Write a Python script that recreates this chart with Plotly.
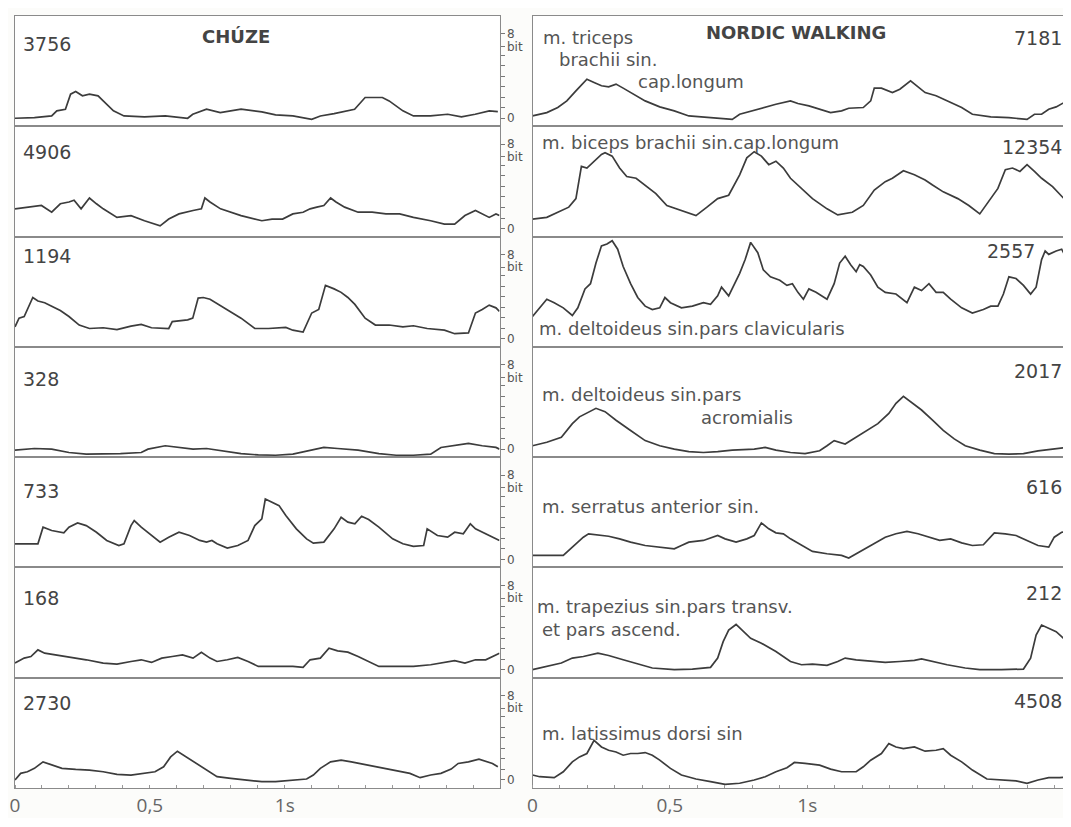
import plotly.graph_objects as go
from plotly.subplots import make_subplots

# ---------------- DATA ----------------
# x tick labels (time in s)
x_tickvals = [0, 0.5, 1]
x_ticktext = ["0", "0,5", "1s"]
# y ticks (bits)
y_tickvals = [0, 1, 2, 3, 4, 5, 6, 6.8, 8]
y_ticktext = ["0", "", "", "", "", "", "", "bit", "8"]

# CHÚZE (walking) – left column
ch_peaks = ["3756", "4906", "1194", "328", "733", "168", "2730"]

CH1_T = [0.0, 0.072, 0.136, 0.155, 0.187, 0.206, 0.225, 0.25, 0.276, 0.308, 0.327, 0.365, 0.404, 0.48, 0.557, 0.64, 0.659, 0.71, 0.761, 0.838, 0.915, 0.966, 1.03, 1.1, 1.132, 1.183, 1.259, 1.298, 1.323, 1.362, 1.387, 1.438, 1.477, 1.54, 1.604, 1.655, 1.706, 1.758, 1.79]
CH1_V = [0.0, 0.06, 0.22, 0.7, 0.86, 2.29, 2.54, 2.13, 2.29, 2.13, 1.65, 0.7, 0.22, 0.13, 0.22, 0.0, 0.38, 0.86, 0.54, 0.86, 0.6, 0.32, 0.22, -0.1, 0.22, 0.44, 0.86, 1.97, 1.97, 1.97, 1.65, 0.7, 0.22, 0.22, 0.38, 0.13, 0.38, 0.7, 0.63]

CH2_T = [0.0, 0.046, 0.098, 0.136, 0.168, 0.2, 0.219, 0.245, 0.276, 0.302, 0.327, 0.378, 0.43, 0.48, 0.538, 0.57, 0.608, 0.66, 0.691, 0.704, 0.723, 0.762, 0.838, 0.915, 0.953, 0.992, 1.03, 1.068, 1.094, 1.119, 1.145, 1.17, 1.19, 1.222, 1.272, 1.324, 1.375, 1.426, 1.477, 1.541, 1.592, 1.63, 1.668, 1.707, 1.732, 1.758, 1.783, 1.796]
CH2_V = [1.87, 2.03, 2.19, 1.55, 2.35, 2.52, 2.68, 1.87, 2.9, 2.35, 1.87, 1.06, 1.23, 0.74, 0.26, 0.9, 1.39, 1.71, 1.87, 2.9, 2.52, 1.87, 1.23, 0.74, 0.9, 0.9, 1.39, 1.55, 1.87, 2.03, 2.19, 2.9, 2.52, 2.03, 1.55, 1.55, 1.39, 1.39, 1.06, 0.74, 0.42, 0.42, 1.23, 1.71, 1.39, 1.06, 1.39, 1.23]

CH3_T = [0.0, 0.015, 0.034, 0.066, 0.085, 0.11, 0.136, 0.168, 0.2, 0.238, 0.276, 0.327, 0.378, 0.43, 0.468, 0.506, 0.57, 0.583, 0.64, 0.659, 0.679, 0.698, 0.723, 0.775, 0.838, 0.889, 0.94, 1.004, 1.03, 1.068, 1.1, 1.126, 1.151, 1.183, 1.209, 1.234, 1.26, 1.298, 1.336, 1.387, 1.438, 1.477, 1.528, 1.592, 1.63, 1.681, 1.707, 1.732, 1.758, 1.783, 1.796]
CH3_V = [1.14, 1.96, 2.12, 3.92, 3.59, 3.43, 3.1, 2.68, 2.12, 1.31, 0.98, 1.05, 0.88, 1.21, 1.37, 1.05, 0.98, 1.63, 1.8, 1.96, 3.86, 3.92, 3.76, 2.94, 1.96, 0.98, 0.98, 1.08, 0.82, 0.65, 2.45, 2.78, 5.07, 4.74, 4.41, 3.92, 3.27, 1.96, 1.31, 1.31, 1.14, 1.24, 0.98, 0.82, 0.49, 0.56, 2.45, 2.78, 3.2, 2.94, 2.61]

CH4_T = [0.0, 0.072, 0.136, 0.2, 0.264, 0.327, 0.391, 0.468, 0.493, 0.557, 0.608, 0.66, 0.71, 0.774, 0.838, 0.902, 0.966, 1.03, 1.094, 1.145, 1.196, 1.272, 1.349, 1.413, 1.477, 1.541, 1.579, 1.63, 1.681, 1.732, 1.783, 1.796]
CH4_V = [-0.1, 0.06, 0.0, -0.32, -0.48, -0.48, -0.42, -0.32, 0.0, 0.32, 0.16, 0.0, 0.06, -0.16, -0.42, -0.55, -0.58, -0.48, -0.1, 0.16, 0.06, -0.1, -0.42, -0.58, -0.58, -0.48, 0.16, 0.32, 0.55, 0.32, 0.16, 0.0]

CH5_T = [0.0, 0.046, 0.085, 0.104, 0.136, 0.181, 0.2, 0.232, 0.264, 0.302, 0.34, 0.385, 0.404, 0.43, 0.442, 0.468, 0.506, 0.538, 0.57, 0.608, 0.647, 0.685, 0.71, 0.73, 0.749, 0.787, 0.826, 0.864, 0.889, 0.915, 0.928, 0.953, 0.979, 1.004, 1.043, 1.081, 1.106, 1.145, 1.183, 1.209, 1.234, 1.26, 1.285, 1.311, 1.349, 1.4, 1.438, 1.477, 1.515, 1.528, 1.566, 1.604, 1.63, 1.662, 1.688, 1.707, 1.745, 1.783, 1.796]
CH5_V = [1.48, 1.48, 1.48, 3.06, 2.74, 2.52, 3.06, 3.46, 3.21, 2.58, 1.8, 1.32, 1.48, 3.21, 3.69, 3.06, 2.27, 1.64, 2.11, 2.58, 2.27, 1.8, 1.64, 1.8, 1.48, 1.07, 1.32, 1.8, 3.21, 3.84, 5.73, 5.42, 5.1, 4.16, 2.9, 1.95, 1.54, 1.64, 2.9, 4.0, 3.53, 3.37, 4.09, 3.78, 3.06, 1.95, 1.48, 1.23, 1.32, 2.9, 2.27, 2.11, 2.58, 2.43, 3.37, 2.9, 2.43, 1.95, 1.8]

CH6_T = [0.0, 0.034, 0.059, 0.085, 0.11, 0.148, 0.2, 0.264, 0.327, 0.378, 0.43, 0.468, 0.506, 0.544, 0.583, 0.621, 0.66, 0.691, 0.723, 0.749, 0.787, 0.826, 0.864, 0.902, 0.966, 1.03, 1.068, 1.094, 1.132, 1.164, 1.196, 1.234, 1.272, 1.311, 1.349, 1.413, 1.477, 1.541, 1.592, 1.63, 1.668, 1.707, 1.745, 1.783, 1.796]
CH6_V = [0.63, 1.1, 1.25, 1.88, 1.57, 1.41, 1.25, 0.94, 0.63, 0.53, 0.78, 0.94, 0.69, 1.1, 1.25, 1.41, 1.1, 1.66, 1.1, 0.78, 0.94, 1.16, 0.78, 0.31, 0.31, 0.31, 0.22, 0.94, 1.1, 2.04, 1.79, 1.66, 1.25, 0.78, 0.31, 0.31, 0.31, 0.47, 0.72, 0.85, 0.63, 0.94, 0.94, 1.41, 1.57]

CH7_T = [0.0, 0.021, 0.046, 0.072, 0.104, 0.136, 0.174, 0.225, 0.276, 0.327, 0.378, 0.43, 0.48, 0.519, 0.551, 0.577, 0.602, 0.634, 0.672, 0.71, 0.749, 0.8, 0.864, 0.915, 0.966, 1.03, 1.081, 1.106, 1.132, 1.17, 1.209, 1.247, 1.298, 1.349, 1.413, 1.464, 1.502, 1.541, 1.579, 1.617, 1.643, 1.681, 1.72, 1.745, 1.77, 1.79]
CH7_V = [0.0, 0.63, 0.78, 1.1, 1.72, 1.41, 1.1, 1.0, 0.94, 0.78, 0.53, 0.47, 0.63, 0.78, 1.25, 2.19, 2.73, 2.19, 1.57, 0.94, 0.31, 0.16, 0.0, -0.16, -0.16, 0.0, 0.09, 0.47, 1.1, 1.72, 1.88, 1.72, 1.47, 1.25, 0.94, 0.63, 0.22, 0.47, 0.63, 1.03, 1.57, 1.72, 1.97, 1.79, 1.57, 1.25]

# NORDIC WALKING – right column
nw_peaks = ["7181", "12354", "2557", "2017", "616", "212", "4508"]

NW1_T = [0.0, 0.052, 0.092, 0.125, 0.158, 0.185, 0.198, 0.224, 0.251, 0.277, 0.304, 0.33, 0.37, 0.41, 0.463, 0.516, 0.569, 0.622, 0.674, 0.727, 0.754, 0.807, 0.86, 0.886, 0.939, 0.966, 1.006, 1.045, 1.085, 1.125, 1.151, 1.204, 1.231, 1.244, 1.27, 1.31, 1.337, 1.376, 1.403, 1.429, 1.469, 1.522, 1.562, 1.601, 1.668, 1.734, 1.8, 1.827, 1.853, 1.879, 1.906, 1.946]
NW1_V = [0.22, 0.54, 1.02, 1.65, 2.6, 3.4, 3.71, 3.4, 3.08, 2.98, 3.24, 2.86, 2.29, 1.65, 1.08, 0.7, 0.22, 0.13, 0.06, -0.1, 0.38, 0.76, 1.17, 1.33, 1.65, 1.4, 1.17, 0.86, 0.54, 0.7, 0.95, 1.02, 1.65, 2.86, 2.86, 2.44, 2.76, 3.56, 2.98, 2.44, 2.13, 1.49, 1.02, 0.38, 0.13, 0.06, -0.1, 0.38, 0.38, 0.86, 1.08, 1.65]

NW2_T = [0.0, 0.052, 0.092, 0.132, 0.158, 0.178, 0.198, 0.224, 0.251, 0.264, 0.29, 0.317, 0.343, 0.377, 0.41, 0.449, 0.489, 0.542, 0.595, 0.635, 0.674, 0.714, 0.754, 0.78, 0.807, 0.833, 0.86, 0.886, 0.913, 0.939, 0.979, 1.019, 1.072, 1.111, 1.164, 1.204, 1.244, 1.284, 1.31, 1.35, 1.39, 1.429, 1.456, 1.495, 1.548, 1.588, 1.628, 1.668, 1.694, 1.721, 1.747, 1.774, 1.8, 1.827, 1.853, 1.893, 1.932, 1.946]
NW2_V = [0.9, 1.06, 1.55, 2.03, 2.84, 5.9, 5.74, 6.39, 7.03, 7.19, 6.87, 5.74, 4.94, 4.77, 4.13, 3.32, 2.19, 1.71, 1.23, 2.03, 2.84, 3.16, 5.1, 6.71, 7.29, 6.87, 6.06, 6.39, 5.74, 4.77, 3.81, 2.84, 1.87, 1.29, 1.55, 2.19, 3.65, 4.45, 4.77, 5.48, 5.1, 4.61, 4.13, 3.48, 2.84, 2.19, 1.39, 2.84, 3.81, 5.58, 5.74, 5.42, 6.06, 5.42, 4.77, 3.97, 2.84, 2.52]

NW3_T = [0.0, 0.026, 0.052, 0.079, 0.112, 0.145, 0.165, 0.191, 0.211, 0.231, 0.251, 0.271, 0.29, 0.31, 0.33, 0.357, 0.383, 0.41, 0.436, 0.463, 0.482, 0.502, 0.542, 0.582, 0.622, 0.648, 0.674, 0.688, 0.714, 0.754, 0.774, 0.794, 0.82, 0.84, 0.866, 0.9, 0.926, 0.946, 0.966, 0.986, 1.006, 1.032, 1.072, 1.098, 1.118, 1.138, 1.158, 1.178, 1.191, 1.204, 1.231, 1.257, 1.284, 1.323, 1.363, 1.39, 1.416, 1.443, 1.469, 1.495, 1.522, 1.562, 1.601, 1.641, 1.668, 1.694, 1.714, 1.734, 1.76, 1.787, 1.813, 1.833, 1.853, 1.866, 1.879, 1.906, 1.926, 1.946]
NW3_V = [2.12, 2.94, 3.76, 3.43, 2.94, 2.22, 2.94, 4.74, 5.23, 7.19, 8.82, 8.99, 9.31, 8.5, 6.86, 5.23, 3.92, 3.1, 2.78, 2.94, 3.92, 3.43, 2.94, 3.1, 3.43, 3.27, 4.08, 4.9, 4.08, 6.21, 7.52, 9.15, 8.17, 6.54, 5.88, 5.56, 5.07, 5.23, 4.41, 3.76, 4.74, 4.41, 3.76, 5.23, 7.19, 7.84, 7.03, 6.37, 7.03, 6.86, 6.05, 4.9, 4.41, 4.25, 3.43, 4.9, 4.58, 5.23, 4.41, 4.41, 3.76, 2.94, 2.45, 2.78, 3.1, 3.1, 4.25, 5.88, 5.72, 5.07, 4.25, 4.9, 7.52, 8.33, 8.01, 8.33, 8.5, 7.52]

NW4_T = [0.0, 0.052, 0.105, 0.145, 0.171, 0.204, 0.231, 0.264, 0.304, 0.357, 0.41, 0.463, 0.516, 0.569, 0.622, 0.674, 0.727, 0.807, 0.847, 0.886, 0.939, 0.992, 1.045, 1.072, 1.098, 1.138, 1.178, 1.217, 1.257, 1.297, 1.323, 1.35, 1.376, 1.416, 1.456, 1.495, 1.535, 1.575, 1.628, 1.681, 1.734, 1.787, 1.84, 1.893, 1.946]
NW4_V = [0.32, 0.65, 1.13, 2.42, 3.06, 3.55, 3.87, 3.55, 2.74, 1.77, 0.81, 0.32, 0.0, -0.23, -0.32, -0.23, -0.1, 0.0, 0.16, -0.1, -0.32, -0.42, -0.16, 0.32, 0.81, 0.48, 1.13, 1.77, 2.42, 3.39, 4.35, 5.0, 4.52, 3.71, 2.74, 1.77, 0.97, 0.32, -0.1, -0.42, -0.48, -0.42, -0.16, 0.0, 0.16]

NW5_T = [0.0, 0.065, 0.112, 0.145, 0.185, 0.204, 0.238, 0.277, 0.317, 0.357, 0.41, 0.463, 0.516, 0.542, 0.569, 0.622, 0.674, 0.701, 0.741, 0.78, 0.807, 0.833, 0.86, 0.886, 0.913, 0.939, 0.979, 1.019, 1.072, 1.125, 1.151, 1.178, 1.231, 1.284, 1.323, 1.363, 1.403, 1.443, 1.482, 1.522, 1.562, 1.601, 1.641, 1.681, 1.721, 1.76, 1.8, 1.84, 1.879, 1.899, 1.926, 1.946]
NW5_V = [0.38, 0.38, 0.38, 1.17, 2.11, 2.43, 2.33, 2.2, 1.95, 1.64, 1.32, 1.17, 1.01, 1.32, 1.64, 1.8, 2.27, 1.95, 1.64, 1.95, 2.27, 3.46, 2.9, 2.52, 2.43, 1.95, 1.32, 0.76, 0.54, 0.38, 0.13, 0.54, 1.32, 2.11, 2.43, 2.65, 2.43, 2.11, 1.8, 1.95, 1.57, 1.32, 1.39, 2.52, 2.43, 2.27, 1.8, 1.32, 1.17, 2.11, 2.58, 2.65]

NW6_T = [0.0, 0.052, 0.105, 0.145, 0.185, 0.238, 0.277, 0.33, 0.383, 0.436, 0.516, 0.582, 0.648, 0.674, 0.694, 0.714, 0.741, 0.767, 0.794, 0.833, 0.886, 0.939, 0.979, 1.019, 1.072, 1.111, 1.138, 1.178, 1.231, 1.284, 1.337, 1.39, 1.416, 1.456, 1.509, 1.575, 1.628, 1.707, 1.787, 1.813, 1.833, 1.853, 1.879, 1.906, 1.926, 1.946]
NW6_V = [0.0, 0.31, 0.63, 1.1, 1.25, 1.57, 1.35, 0.94, 0.53, 0.16, 0.0, 0.06, 0.22, 1.1, 2.66, 3.76, 4.29, 3.61, 2.98, 2.51, 1.72, 0.78, 0.47, 0.53, 0.41, 0.78, 1.1, 0.94, 0.78, 0.69, 0.78, 0.88, 1.03, 0.78, 0.47, 0.16, 0.0, 0.0, 0.06, 1.1, 3.29, 4.23, 3.92, 3.61, 3.13, 2.66]

NW7_T = [0.0, 0.026, 0.079, 0.112, 0.145, 0.171, 0.198, 0.224, 0.251, 0.277, 0.304, 0.33, 0.357, 0.383, 0.41, 0.436, 0.463, 0.502, 0.542, 0.595, 0.648, 0.701, 0.754, 0.807, 0.847, 0.886, 0.926, 0.953, 0.992, 1.045, 1.085, 1.125, 1.178, 1.204, 1.231, 1.27, 1.297, 1.323, 1.35, 1.39, 1.429, 1.469, 1.495, 1.522, 1.562, 1.601, 1.654, 1.707, 1.76, 1.8, 1.84, 1.879, 1.919, 1.946]
NW7_V = [0.47, 0.31, 0.22, 0.78, 1.72, 2.19, 2.51, 3.76, 3.13, 2.82, 2.66, 2.35, 2.51, 2.51, 2.6, 2.35, 1.88, 1.1, 0.47, 0.09, -0.16, -0.41, -0.31, 0.0, 0.31, 0.78, 1.16, 1.66, 1.57, 1.41, 1.03, 0.78, 0.78, 1.25, 1.88, 2.51, 3.45, 3.13, 2.98, 3.13, 2.73, 2.82, 2.98, 2.35, 1.72, 0.94, 0.09, 0.0, -0.09, -0.31, 0.0, 0.22, 0.22, 0.3]

nw_muscles = [
    [("m. triceps", 542, 38), ("brachii sin.", 558, 60), ("cap.longum", 637, 82)],
    [("m. biceps brachii sin.cap.longum", 540, 144)],
    [("m. deltoideus sin.pars clavicularis", 537, 331)],
    [("m. deltoideus sin.pars", 540, 398), ("acromialis", 700, 421)],
    [("m. serratus anterior sin.", 540, 511)],
    [("m. trapezius sin.pars transv.", 535, 612), ("et pars ascend.", 540, 635)],
    [("m. latissimus dorsi sin", 540, 740)],
]

ch_series = [(CH1_T, CH1_V), (CH2_T, CH2_V), (CH3_T, CH3_V), (CH4_T, CH4_V),
             (CH5_T, CH5_V), (CH6_T, CH6_V), (CH7_T, CH7_V)]
nw_series = [(NW1_T, NW1_V), (NW2_T, NW2_V), (NW3_T, NW3_V), (NW4_T, NW4_V),
             (NW5_T, NW5_V), (NW6_T, NW6_V), (NW7_T, NW7_V)]

# ---------------- LAYOUT ----------------
# page body has an 8px margin: figure coordinates = reference pixels - 8
OFF = 8
W, H = 1060, 810
PL, PR, PT, PB = 15, 1068, 16, 795          # plot area in reference pixels
ML, MT = PL - OFF, PT - OFF
MR = W - (PR - OFF)
MB = H - (PB - OFF)
PW, PH = W - ML - MR, H - MT - MB


def px(x, y):
    return (x - PL) / PW, 1 - (y - PT) / PH


NROWS = 7
fig = make_subplots(rows=NROWS, cols=2, vertical_spacing=0, horizontal_spacing=0.03)

left_dom = [0, (500 - PL) / PW]
right_dom = [(533 - PL) / PW, 1.0]
LINE = "#3c3c3c"
BORDER = "#8a8a8a"
YR = [-0.76, 9.7]
XR_L = [0, (500 - 15) / 270]
XR_R = [0, (1068 - 533) / 275]

for i in range(NROWS):
    r = i + 1
    dom = [1 - (i + 1) / NROWS, 1 - i / NROWS]
    t, v = ch_series[i]
    fig.add_trace(go.Scatter(x=t, y=v, mode="lines", line=dict(color=LINE, width=1.7),
                             hoverinfo="skip", showlegend=False), row=r, col=1)
    t, v = nw_series[i]
    fig.add_trace(go.Scatter(x=t, y=v, mode="lines", line=dict(color=LINE, width=1.7),
                             hoverinfo="skip", showlegend=False), row=r, col=2)
    last = (r == NROWS)
    for c, xdom, xr in ((1, left_dom, XR_L), (2, right_dom, XR_R)):
        fig.update_xaxes(row=r, col=c, domain=xdom, range=xr, showgrid=False, zeroline=False,
                         showline=True, mirror=True, linecolor=BORDER, linewidth=1,
                         tickmode="array", tickvals=x_tickvals, ticktext=x_ticktext,
                         showticklabels=last, ticks="",
                         tickfont=dict(family="Open Sans", size=19, color="#666"),
                         minor=dict(dtick=0.1, ticks="inside" if last else "", ticklen=3,
                                    tickcolor="#999"))
    fig.update_yaxes(row=r, col=1, domain=dom, range=YR, showgrid=False, zeroline=False,
                     showline=True, mirror=True, linecolor=BORDER, linewidth=1,
                     side="right", tickmode="array", tickvals=y_tickvals, ticktext=y_ticktext,
                     ticks="outside", ticklen=4, tickcolor="#777",
                     tickfont=dict(family="DejaVu Sans", size=12, color="#555"))
    fig.update_yaxes(row=r, col=2, domain=dom, range=YR, showgrid=False, zeroline=False,
                     showline=True, mirror=True, linecolor=BORDER, linewidth=1,
                     showticklabels=False, ticks="")

annotations = []
# left peak values
ch_y = [44, 153, 258, 382, 495, 603, 709]
for i, s in enumerate(ch_peaks):
    x, y = px(21, ch_y[i])
    annotations.append(dict(x=x, y=y, xref="paper", yref="paper", text=s, showarrow=False,
                            xanchor="left", yanchor="middle",
                            font=dict(family="DejaVu Sans", size=19, color="#444")))
# right peak values
nw_xy = [(1065, 38), (1065, 148), (1038, 253), (1065, 374), (1065, 491), (1065, 598), (1065, 707)]
for i, s in enumerate(nw_peaks):
    x, y = px(*nw_xy[i])
    annotations.append(dict(x=x, y=y, xref="paper", yref="paper", text=s, showarrow=False,
                            xanchor="right", yanchor="middle",
                            font=dict(family="DejaVu Sans", size=19, color="#444")))
# muscle names
for rows in nw_muscles:
    for s, x0, y0 in rows:
        x, y = px(x0, y0)
        annotations.append(dict(x=x, y=y, xref="paper", yref="paper", text=s, showarrow=False,
                                xanchor="left", yanchor="middle",
                                font=dict(family="DejaVu Sans", size=18, color="#555")))
# titles
x, y = px(236, 37)
annotations.append(dict(x=x, y=y, xref="paper", yref="paper", text="<b>CHÚZE</b>",
                        showarrow=False, xanchor="center", yanchor="middle",
                        font=dict(family="DejaVu Sans", size=18, color="#444")))
x, y = px(797, 33)
annotations.append(dict(x=x, y=y, xref="paper", yref="paper", text="<b>NORDIC WALKING</b>",
                        showarrow=False, xanchor="center", yanchor="middle",
                        font=dict(family="DejaVu Sans", size=18, color="#444")))

fig.update_layout(width=W, height=H, margin=dict(l=ML, r=MR, t=MT, b=MB),
                  plot_bgcolor="#ffffff", paper_bgcolor="#fcfcfa",
                  annotations=annotations, showlegend=False)

fig.write_html("out.html")
